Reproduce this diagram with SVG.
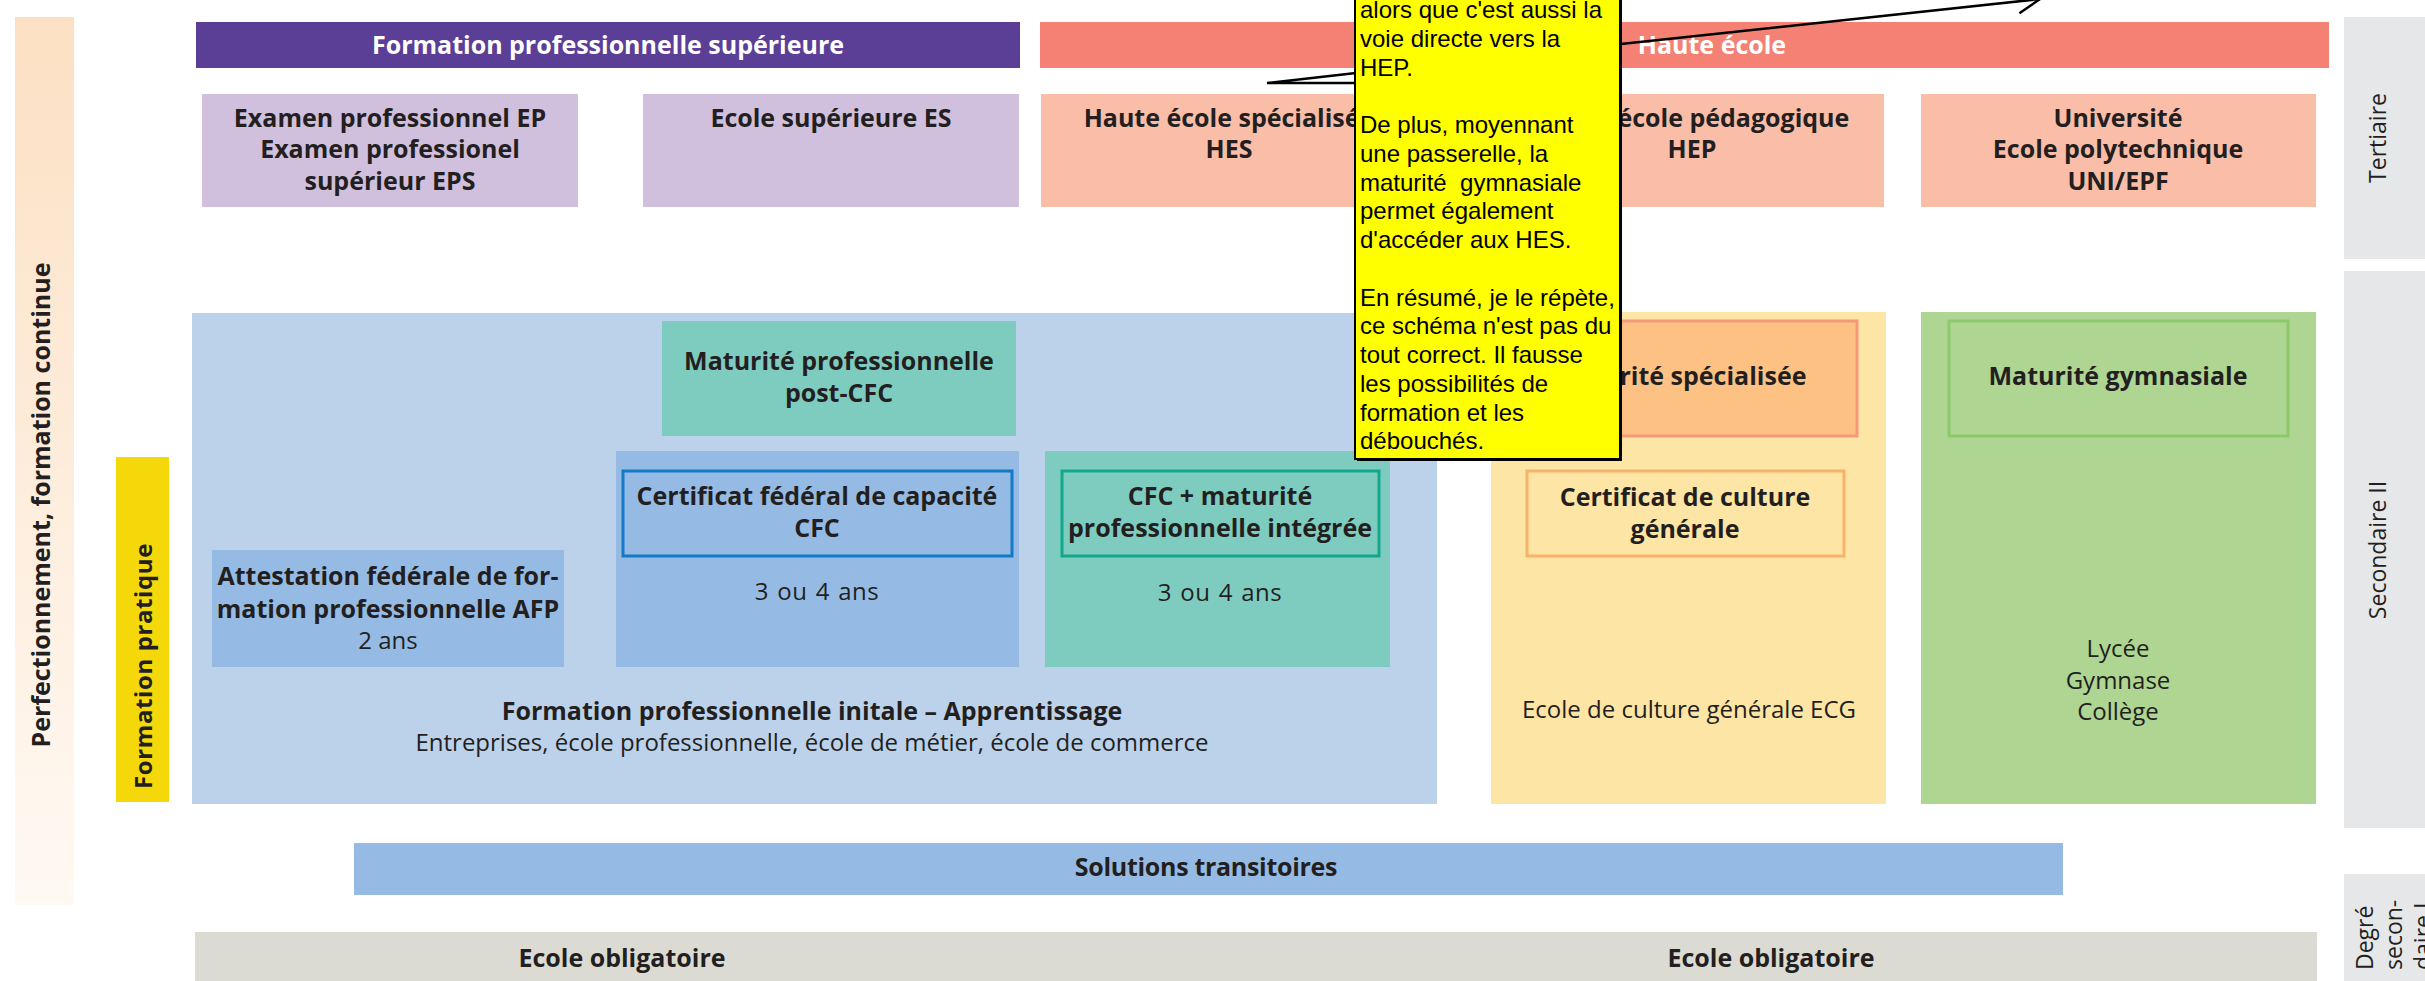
<svg xmlns="http://www.w3.org/2000/svg" width="2425" height="981" viewBox="0 0 2425 981">
<defs>
<linearGradient id="peach" x1="0" y1="0" x2="0" y2="1">
<stop offset="0" stop-color="#FCE0C3"/>
<stop offset="1" stop-color="#FFF9F3"/>
</linearGradient>
<marker id="arr" markerUnits="userSpaceOnUse" markerWidth="26" markerHeight="28" refX="23" refY="14" orient="auto" viewBox="0 0 26 28">
<path d="M1,2 L23,14 L1,26" fill="none" stroke="#000" stroke-width="2.5"/>
</marker>
<style>
.b{font-family:"Open Sans","Liberation Sans",sans-serif;font-weight:700;font-size:25px;fill:#231F20;text-anchor:middle}
.r{font-family:"Open Sans","Liberation Sans",sans-serif;font-weight:400;font-size:24px;fill:#231F20;text-anchor:middle}
.h{font-family:"Open Sans","Liberation Sans",sans-serif;font-weight:700;font-size:25px;fill:#FFFFFF;text-anchor:middle}
.side{font-family:"Open Sans","Liberation Sans",sans-serif;font-weight:400;font-size:23px;fill:#231F20}
.vb{font-family:"Open Sans","Liberation Sans",sans-serif;font-weight:700;fill:#231F20;text-anchor:middle}
.note{font-family:"Liberation Sans",Arial,sans-serif;font-size:24px;fill:#000000}
.conn{fill:none;stroke:#000000;stroke-width:2.5}
</style>
</defs>
<rect width="2425" height="981" fill="#FFFFFF"/>

<g id="perfectionnement">
<rect x="15" y="17" width="59" height="888" fill="url(#peach)"/>
<text class="vb" font-size="25" transform="translate(50,505) rotate(-90)">Perfectionnement, formation continue</text>
</g>

<g id="formation-pratique">
<rect x="116" y="457" width="53" height="345" fill="#F5D80A"/>
<text class="vb" font-size="24" letter-spacing="0.6" transform="translate(152,666) rotate(-90)">Formation pratique</text>
</g>

<g id="fps-header">
<rect x="196" y="22" width="824" height="46" fill="#5B3E96"/>
<text class="h" x="608" y="54">Formation professionnelle supérieure</text>
</g>

<g id="he-header">
<rect x="1040" y="22" width="1289" height="46" fill="#F48174"/>
<text class="h" x="1712" y="54">Haute école</text>
</g>

<g id="ep">
<rect x="202" y="94" width="376" height="113" fill="#D0C0DE"/>
<text class="b" x="390" y="127">Examen professionnel EP</text>
<text class="b" x="390" y="158">Examen professionel</text>
<text class="b" x="390" y="190">supérieur EPS</text>
</g>

<g id="es">
<rect x="643" y="94" width="376" height="113" fill="#D0C0DE"/>
<text class="b" x="831" y="127">Ecole supérieure ES</text>
</g>

<g id="hes">
<rect x="1041" y="94" width="376" height="113" fill="#F9BDA8"/>
<text class="b" x="1229" y="127">Haute école spécialisée</text>
<text class="b" x="1229" y="158">HES</text>
</g>

<g id="hep">
<rect x="1504" y="94" width="380" height="113" fill="#F9BDA8"/>
<text class="b" x="1692" y="127">Haute école pédagogique</text>
<text class="b" x="1692" y="158">HEP</text>
</g>

<g id="uni">
<rect x="1921" y="94" width="395" height="113" fill="#F9BDA8"/>
<text class="b" x="2118" y="127">Université</text>
<text class="b" x="2118" y="158">Ecole polytechnique</text>
<text class="b" x="2118" y="190">UNI/EPF</text>
</g>

<g id="apprentissage">
<rect x="192" y="313" width="1245" height="491" fill="#BCD2EB"/>
<text class="b" x="812" y="720">Formation professionnelle initale – Apprentissage</text>
<text class="r" x="812" y="751">Entreprises, école professionnelle, école de métier, école de commerce</text>
</g>

<g id="mp-post-cfc">
<rect x="662" y="321" width="354" height="115" fill="#7ECCBF"/>
<text class="b" x="839" y="370">Maturité professionnelle</text>
<text class="b" x="839" y="402">post-CFC</text>
</g>

<g id="afp">
<rect x="212" y="550" width="352" height="117" fill="#95BBE4"/>
<text class="b" x="388" y="585">Attestation fédérale de for-</text>
<text class="b" x="388" y="618">mation professionnelle AFP</text>
<text class="r" x="388" y="649">2 ans</text>
</g>

<g id="cfc">
<rect x="616" y="451" width="403" height="216" fill="#95BBE4"/>
<rect x="623" y="471" width="389" height="85" fill="none" stroke="#1479C6" stroke-width="3"/>
<text class="b" x="817" y="505">Certificat fédéral de capacité</text>
<text class="b" x="817" y="537">CFC</text>
<text class="r" x="817" y="600" word-spacing="1.5" letter-spacing="0.5">3 ou 4 ans</text>
</g>

<g id="cfc-mp">
<rect x="1045" y="451" width="345" height="216" fill="#7ECCBF"/>
<rect x="1062" y="471" width="317" height="85" fill="none" stroke="#12A88E" stroke-width="3"/>
<text class="b" x="1220" y="505">CFC + maturité</text>
<text class="b" x="1220" y="537">professionnelle intégrée</text>
<text class="r" x="1220" y="601" word-spacing="1.5" letter-spacing="0.5">3 ou 4 ans</text>
</g>

<g id="ecg">
<rect x="1491" y="312" width="395" height="492" fill="#FDE5A5"/>
<text class="r" x="1689" y="718">Ecole de culture générale ECG</text>
</g>

<g id="maturite-specialisee">
<rect x="1503" y="321" width="354" height="115" fill="#FDC283" stroke="#F6987A" stroke-width="3"/>
<text class="b" x="1680" y="385">Maturité spécialisée</text>
</g>

<g id="ccg">
<rect x="1527" y="471" width="317" height="85" fill="none" stroke="#F8B26A" stroke-width="3"/>
<text class="b" x="1685" y="506">Certificat de culture</text>
<text class="b" x="1685" y="538">générale</text>
</g>

<g id="gymnase">
<rect x="1921" y="312" width="395" height="492" fill="#AED592"/>
<text class="r" x="2118" y="657">Lycée</text>
<text class="r" x="2118" y="689">Gymnase</text>
<text class="r" x="2118" y="720">Collège</text>
</g>

<g id="maturite-gymnasiale">
<rect x="1949" y="321" width="339" height="115" fill="none" stroke="#8DC86B" stroke-width="3"/>
<text class="b" x="2118" y="385">Maturité gymnasiale</text>
</g>

<g id="solutions-transitoires">
<rect x="354" y="843" width="1709" height="52" fill="#95BBE4"/>
<text class="b" x="1206" y="876" font-size="21" letter-spacing="-0.3">Solutions transitoires</text>
</g>

<g id="ecole-obligatoire">
<rect x="195" y="932" width="2122" height="60" fill="#DCDBD3"/>
<text class="b" x="622" y="967">Ecole obligatoire</text>
<text class="b" x="1771" y="967">Ecole obligatoire</text>
</g>

<g id="tertiaire">
<rect x="2344" y="17" width="81" height="242" fill="#E6E7E8"/>
<text class="side" text-anchor="middle" transform="translate(2386,138) rotate(-90)">Tertiaire</text>
</g>

<g id="secondaire-2">
<rect x="2344" y="271" width="81" height="557" fill="#E6E7E8"/>
<text class="side" text-anchor="middle" transform="translate(2386,550) rotate(-90)">Secondaire II</text>
</g>

<g id="secondaire-1">
<rect x="2344" y="874" width="81" height="120" fill="#E6E7E8"/>
<text class="side" transform="translate(2373,970) rotate(-90)">Degré</text>
<text class="side" transform="translate(2402,970) rotate(-90)">secon-</text>
<text class="side" transform="translate(2431,970) rotate(-90)">daire I</text>
</g>

<g id="connectors">
<polyline class="conn" points="1356,73 1267,83 1356,83"/>
<line class="conn" x1="1621" y1="44" x2="2040" y2="-1" marker-end="url(#arr)"/>
</g>

<g id="note">
<rect x="1357" y="-200" width="265" height="661" fill="#000000"/>
<rect x="1355" y="-200" width="265" height="659" fill="#FFFF00" stroke="#000000" stroke-width="2"/>
<text class="note" x="1360" y="18">alors que c'est aussi la</text>
<text class="note" x="1360" y="46.75">voie directe vers la</text>
<text class="note" x="1360" y="75.5">HEP.</text>
<text class="note" x="1360" y="133">De plus, moyennant</text>
<text class="note" x="1360" y="161.75">une passerelle, la</text>
<text class="note" x="1360" y="190.5">maturité&#160; gymnasiale</text>
<text class="note" x="1360" y="219.25">permet également</text>
<text class="note" x="1360" y="248">d'accéder aux HES.</text>
<text class="note" x="1360" y="305.5">En résumé, je le répète,</text>
<text class="note" x="1360" y="334.25">ce schéma n'est pas du</text>
<text class="note" x="1360" y="363">tout correct. Il fausse</text>
<text class="note" x="1360" y="391.75">les possibilités de</text>
<text class="note" x="1360" y="420.5">formation et les</text>
<text class="note" x="1360" y="449.25">débouchés.</text>
</g>
</svg>
